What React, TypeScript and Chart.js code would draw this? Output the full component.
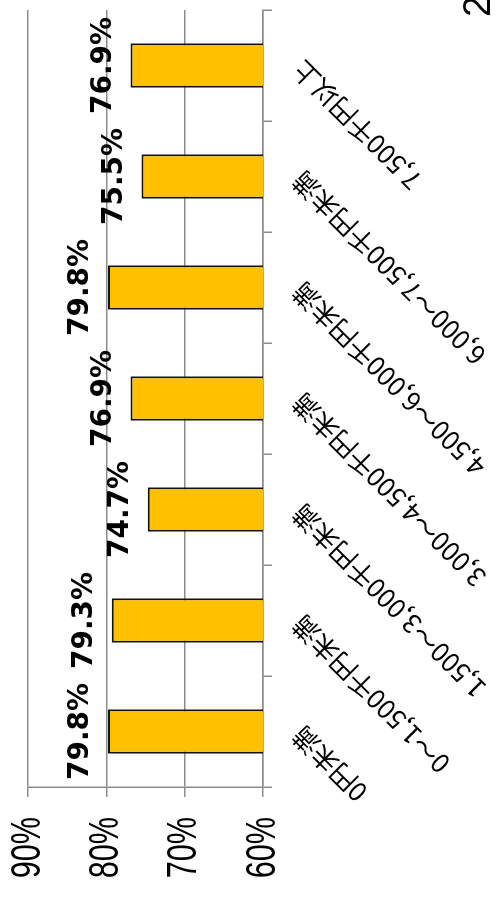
import React, { useEffect, useRef } from "react";
import { Chart, registerables } from "chart.js";

Chart.register(...registerables);

const categories = [
  "0円未満",
  "0～1,500千円未満",
  "1,500～3,000千円未満",
  "3,000～4,500千円未満",
  "4,500～6,000千円未満",
  "6,000～7,500千円未満",
  "7,500千円以上",
];
const values = [79.8, 79.3, 74.7, 76.9, 79.8, 75.5, 76.9];
const yMin = 60;
const yMax = 90;
const yStep = 10;
const cornerText = "2";

const GRID = "#8c8c8c";

export default function App() {
  const ref = useRef<HTMLCanvasElement>(null);

  useEffect(() => {
    if (!ref.current) return;
    const labelPlugin = {
      id: "valueLabels",
      afterDatasetsDraw(chart: any) {
        const ctx = chart.ctx;
        const meta = chart.getDatasetMeta(0);
        ctx.save();
        ctx.font = "bold 28px 'DejaVu Sans'";
        ctx.fillStyle = "#000";
        ctx.textAlign = "center";
        ctx.textBaseline = "alphabetic";
        meta.data.forEach((el: any, i: number) => {
          ctx.fillText(values[i].toFixed(1) + "%", el.x, el.y - 20);
        });
        // narrow y-axis tick labels
        const ys = chart.scales.y;
        ctx.font = "42px 'Liberation Sans'";
        ctx.textAlign = "right";
        ctx.textBaseline = "middle";
        ys.ticks.forEach((t: any) => {
          const py = ys.getPixelForValue(t.value);
          ctx.save();
          ctx.translate(ys.right - 30, py);
          ctx.scale(0.73, 1);
          ctx.fillText(t.value + "%", 0, 0);
          ctx.restore();
        });
        ctx.font = "38px 'Liberation Sans'";
        ctx.textAlign = "left";
        ctx.textBaseline = "alphabetic";
        ctx.fillText(cornerText, 887, 490);
        ctx.restore();
      },
    };

    const chart = new Chart(ref.current, {
      type: "bar",
      data: {
        labels: categories,
        datasets: [
          {
            data: values,
            backgroundColor: "#FFC000",
            borderColor: "#111",
            borderWidth: 2,
            borderSkipped: "bottom",
            categoryPercentage: 1,
            barPercentage: 0.4,
          },
        ],
      },
      options: {
        responsive: false,
        animation: false,
        layout: { padding: { left: 0, top: 28, right: 10, bottom: 0 } },
        plugins: {
          legend: { display: false },
          tooltip: { enabled: false },
        },
        scales: {
          x: {
            afterFit: (s: any) => {
              s.height = 235;
              s.paddingLeft = 0;
              s.paddingRight = 0;
            },
            grid: {
              display: true,
              offset: true,
              drawOnChartArea: false,
              drawTicks: true,
              tickLength: 9,
              color: GRID,
              lineWidth: 1.5,
            },
            border: { display: true, color: GRID, width: 1.5 },
            ticks: {
              autoSkip: false,
              minRotation: 45,
              maxRotation: 45,
              padding: 14,
              color: "#000",
              font: { family: "'Noto Sans CJK JP'", size: 26 },
            },
          },
          y: {
            min: yMin,
            max: yMax,
            afterFit: (s: any) => {
              s.width = 117;
              s.paddingTop = 0;
              s.paddingBottom = 0;
            },
            grid: {
              color: GRID,
              lineWidth: 1.5,
              tickLength: 10,
            },
            border: { display: true, color: GRID, width: 1.5 },
            ticks: {
              stepSize: yStep,
              display: false,
            },
          },
        },
      },
      plugins: [labelPlugin],
    });
    return () => chart.destroy();
  }, []);

  return (
    <div
      style={{
        position: "fixed",
        top: 0,
        left: 0,
        width: 498,
        height: 904,
        overflow: "hidden",
        background: "#fff",
      }}
    >
      <div
        style={{
          position: "absolute",
          top: 0,
          left: 0,
          width: 904,
          height: 498,
          transformOrigin: "0 0",
          transform: "translateY(904px) rotate(-90deg)",
        }}
      >
        <canvas ref={ref} width={904} height={498} style={{ display: "block" }} />
      </div>
    </div>
  );
}
